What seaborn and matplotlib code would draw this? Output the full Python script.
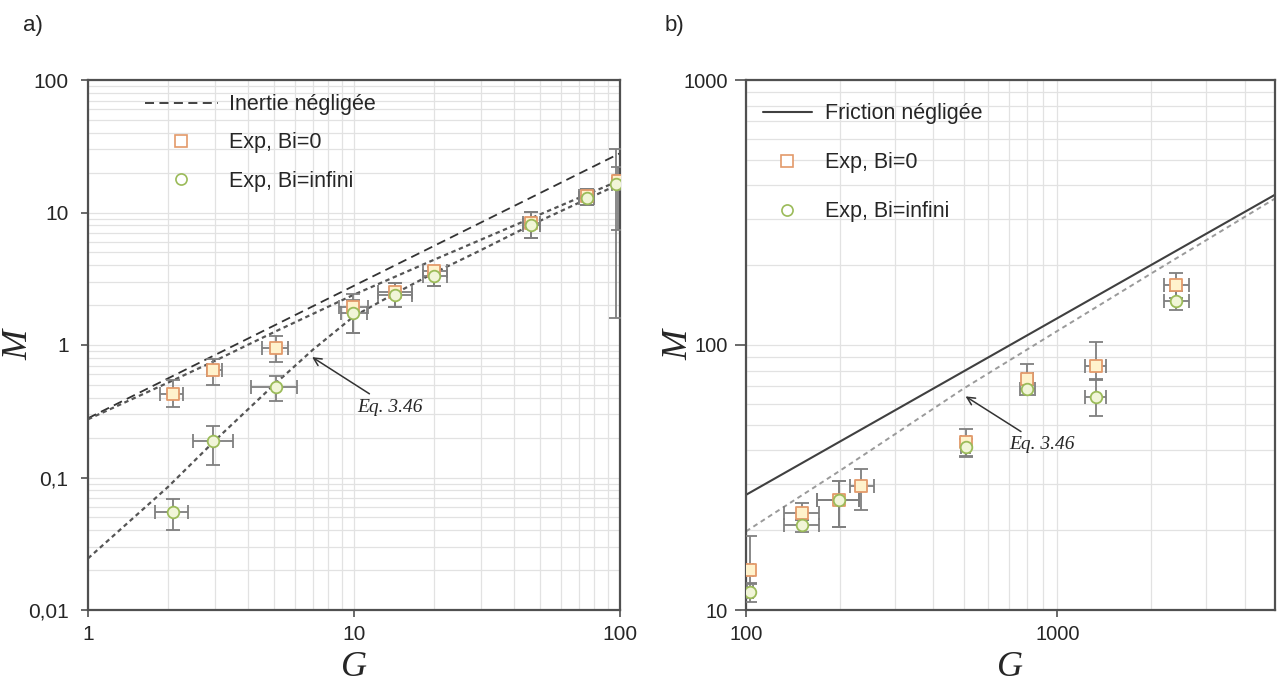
import matplotlib
matplotlib.use('Agg')
import numpy as np
import pandas as pd
import matplotlib.pyplot as plt
from matplotlib.lines import Line2D
from matplotlib.ticker import FixedLocator, FixedFormatter, NullFormatter, LogLocator
import seaborn as sns

# ---------------- panel a) ----------------
a_G = [2.08, 2.96, 5.08, 9.95, 14.2, 20.0, 46.4, 75.0, 98.5]
a_bi0_M = [0.43, 0.645, 0.95, 1.95, 2.5, 3.6, 8.4, 13.3, 17.2]
a_bi0_Mlo = [0.34, 0.50, 0.75, 1.24, 1.94, 2.77, 6.4, 11.3, 7.4]
a_bi0_Mhi = [0.54, 0.78, 1.17, 2.44, 2.93, 3.9, 10.1, 15.1, 22.0]
a_bi0_Glo = [1.87, 2.80, 4.50, 8.8, 12.3, 18.1, 43.0, 70.0, 95.0]
a_bi0_Ghi = [2.27, 3.19, 5.66, 11.3, 16.5, 22.3, 50.0, 80.0, 102.0]

a_biinf_G = [2.08, 2.96, 5.08, 9.95, 14.2, 20.0, 46.4, 75.0, 97.0]
a_biinf_M = [0.055, 0.187, 0.483, 1.75, 2.4, 3.3, 8.1, 12.9, 16.5]
a_biinf_Mlo = [0.040, 0.125, 0.38, 1.24, 1.94, 2.77, 6.4, 11.3, 1.6]
a_biinf_Mhi = [0.069, 0.246, 0.58, 2.2, 2.93, 3.9, 10.1, 15.1, 30.0]
a_biinf_Glo = [1.78, 2.48, 4.09, 8.9, 12.3, 18.1, 43.0, 70.0, 93.0]
a_biinf_Ghi = [2.38, 3.52, 6.10, 11.2, 16.5, 22.3, 50.0, 80.0, 100.0]

a_inertie_G = [1, 100]
a_inertie_M = [0.28, 28.0]
a_eq_up_G = [1, 2, 3, 5, 10, 20, 46, 100]
a_eq_up_M = [0.275, 0.52, 0.76, 1.25, 2.4, 4.4, 9.0, 17.5]
a_eq_low_G = [1, 2, 3, 5, 7, 10, 14, 20, 30, 46, 100]
a_eq_low_M = [0.0245, 0.085, 0.19, 0.5, 0.92, 1.65, 2.4, 3.5, 5.2, 8.0, 16.5]

a_yticks = [0.01, 0.1, 1, 10, 100]
a_yticklabels = ['0,01', '0,1', '1', '10', '100']
a_xticks = [1, 10, 100]
a_xticklabels = ['1', '10', '100']

# ---------------- panel b) ----------------
b_bi0_G = [102.8, 151.7, 199, 234, 507, 801, 1327, 2410]
b_bi0_M = [14.2, 23.3, 25.9, 29.3, 43.0, 74.3, 83.4, 168]
b_bi0_Mlo = [12.5, 21.8, 20.5, 23.9, 37.8, 68.0, 74.0, 150]
b_bi0_Mhi = [19.0, 25.3, 30.8, 34.1, 48.3, 84.6, 103, 187.5]
b_bi0_Glo = [100.5, 132, 169, 215, 490, 770, 1229, 2197]
b_bi0_Ghi = [105, 172, 230, 257, 525, 835, 1433, 2650]

b_biinf_G = [102.8, 151.7, 199, 507, 801, 1327, 2410]
b_biinf_M = [11.7, 21.0, 25.9, 41.2, 68.5, 63.8, 147]
b_biinf_Mlo = [10.7, 19.7, 20.5, 38.0, 64.8, 53.9, 136]
b_biinf_Mhi = [12.6, 21.8, 30.8, 44.0, 72.0, 74.1, 160]
b_biinf_Glo = [100.5, 132, 169, 490, 758, 1229, 2197]
b_biinf_Ghi = [105, 172, 230, 525, 846, 1433, 2650]

b_friction_G = [100, 5000]
b_friction_M = [27.2, 369]
b_eq_G = [100, 200, 500, 1000, 2000, 5000]
b_eq_M = [19.8, 33.5, 68.5, 113, 186, 357]

b_yticks = [10, 100, 1000]
b_yticklabels = ['10', '100', '1000']
b_xticks = [100, 1000]
b_xticklabels = ['100', '1000']

# ---------------- style ----------------
sns.set_style("whitegrid", {'grid.color': '#e2e2e2', 'axes.edgecolor': '#505050'})
plt.rcParams['font.family'] = ['Liberation Sans', 'DejaVu Sans']

SQ_FACE, SQ_EDGE = '#fff2cc', '#e39a6a'
CI_FACE, CI_EDGE = '#f1f5d8', '#9bbb59'
ERR = '#7f7f7f'

fig = plt.figure(figsize=(12.78, 6.92), dpi=100)
ax1 = fig.add_axes([88 / 1278, 1 - 610 / 692, 532 / 1278, 530 / 692])
ax2 = fig.add_axes([746 / 1278, 1 - 610 / 692, 529 / 1278, 530 / 692])


def draw_points(ax, G, M, Glo, Ghi, Mlo, Mhi, marker, face, edge):
    df = pd.DataFrame({'G': G, 'M': M, 'Glo': Glo, 'Ghi': Ghi, 'Mlo': Mlo, 'Mhi': Mhi})
    ax.errorbar(df['G'], df['M'],
                xerr=[df['G'] - df['Glo'], df['Ghi'] - df['G']],
                yerr=[df['M'] - df['Mlo'], df['Mhi'] - df['M']],
                fmt='none', ecolor=ERR, elinewidth=1.3, capsize=5, capthick=1.3, zorder=3)
    sns.scatterplot(data=df, x='G', y='M', ax=ax, marker=marker, s=70,
                    color=face, edgecolor=edge, linewidth=1.3, zorder=4, legend=False)


def style_axes(ax, xlim, ylim, xticks, xlabels, yticks, ylabels, fs):
    ax.set_xscale('log')
    ax.set_yscale('log')
    ax.set_xlim(*xlim)
    ax.set_ylim(*ylim)
    ax.xaxis.set_major_locator(FixedLocator(xticks))
    ax.xaxis.set_major_formatter(FixedFormatter(xlabels))
    ax.yaxis.set_major_locator(FixedLocator(yticks))
    ax.yaxis.set_major_formatter(FixedFormatter(ylabels))
    for axis in (ax.xaxis, ax.yaxis):
        axis.set_minor_locator(LogLocator(base=10, subs=np.arange(2, 10), numticks=20))
        axis.set_minor_formatter(NullFormatter())
    ax.grid(True, which='both', color='#e2e2e2', linewidth=0.9)
    ax.tick_params(which='minor', length=0)
    ax.tick_params(which='major', length=5, width=1.2, color='#505050',
                   labelsize=fs, left=True, bottom=True)
    ax.tick_params(axis='y', pad=9)
    ax.tick_params(axis='x', pad=6)
    for sp in ax.spines.values():
        sp.set_linewidth(1.6)
        sp.set_color('#505050')
    ax.set_axisbelow(True)
    ax.set_xlabel('G', fontsize=26, style='italic', family=['Liberation Serif', 'DejaVu Serif'])
    ax.set_ylabel('M', fontsize=26, style='italic', family=['Liberation Serif', 'DejaVu Serif'])
    ax.xaxis.set_label_coords(0.5, -0.078)


# ---- panel a ----
sns.lineplot(x=a_inertie_G, y=a_inertie_M, ax=ax1, color='#333333', lw=1.3, zorder=2)
ax1.lines[-1].set_dashes((5, 3))
sns.lineplot(x=a_eq_up_G, y=a_eq_up_M, ax=ax1, color='#555555', lw=1.6, zorder=2)
ax1.lines[-1].set_dashes((2, 1.6))
sns.lineplot(x=a_eq_low_G, y=a_eq_low_M, ax=ax1, color='#555555', lw=1.6, zorder=2)
ax1.lines[-1].set_dashes((2, 1.6))

draw_points(ax1, a_G, a_bi0_M, a_bi0_Glo, a_bi0_Ghi, a_bi0_Mlo, a_bi0_Mhi, 's', SQ_FACE, SQ_EDGE)
draw_points(ax1, a_biinf_G, a_biinf_M, a_biinf_Glo, a_biinf_Ghi, a_biinf_Mlo, a_biinf_Mhi, 'o', CI_FACE, CI_EDGE)

style_axes(ax1, (1, 100), (0.01, 100), a_xticks, a_xticklabels, a_yticks, a_yticklabels, 15)
ax1.yaxis.set_label_coords(-0.098, 0.5)

h1 = [Line2D([], [], color='#333333', lw=1.3, dashes=(5, 3)),
      Line2D([], [], ls='', marker='s', ms=8, mfc='white', mec=SQ_EDGE, mew=1.2),
      Line2D([], [], ls='', marker='o', ms=8, mfc='white', mec=CI_EDGE, mew=1.2)]
ax1.legend(h1, ['Inertie négligée', 'Exp, Bi=0', 'Exp, Bi=infini'], loc='upper left',
           bbox_to_anchor=(0.07, 1.01), frameon=False, fontsize=15.5,
           handlelength=3.4, handletextpad=0.5, labelspacing=0.8)

ax1.annotate('Eq. 3.46', xy=(6.96, 0.81), xytext=(10.3, 0.34), fontsize=14,
             style='italic', family=['Liberation Serif', 'DejaVu Serif'], va='center',
             arrowprops=dict(arrowstyle='->', color='#333333', lw=1.1, shrinkA=2, shrinkB=0))

# ---- panel b ----
sns.lineplot(x=b_friction_G, y=b_friction_M, ax=ax2, color='#404040', lw=1.5, zorder=2)
sns.lineplot(x=b_eq_G, y=b_eq_M, ax=ax2, color='#9a9a9a', lw=1.4, zorder=2)
ax2.lines[-1].set_dashes((2.5, 2))

draw_points(ax2, b_bi0_G, b_bi0_M, b_bi0_Glo, b_bi0_Ghi, b_bi0_Mlo, b_bi0_Mhi, 's', SQ_FACE, SQ_EDGE)
draw_points(ax2, b_biinf_G, b_biinf_M, b_biinf_Glo, b_biinf_Ghi, b_biinf_Mlo, b_biinf_Mhi, 'o', CI_FACE, CI_EDGE)

style_axes(ax2, (100, 5000), (10, 1000), b_xticks, b_xticklabels, b_yticks, b_yticklabels, 14.5)
ax2.tick_params(axis='y', pad=5, length=8)
ax2.yaxis.set_label_coords(-0.095, 0.5)

h2 = [Line2D([], [], color='#404040', lw=1.5),
      Line2D([], [], ls='', marker='s', ms=8, mfc='white', mec=SQ_EDGE, mew=1.2),
      Line2D([], [], ls='', marker='o', ms=8, mfc='white', mec=CI_EDGE, mew=1.2)]
ax2.legend(h2, ['Friction négligée', 'Exp, Bi=0', 'Exp, Bi=infini'], loc='upper left',
           bbox_to_anchor=(-0.005, 0.993), frameon=False, fontsize=15.5,
           handlelength=2.3, handletextpad=0.6, labelspacing=1.3)

ax2.annotate('Eq. 3.46', xy=(507, 64), xytext=(700, 42), fontsize=14,
             style='italic', family=['Liberation Serif', 'DejaVu Serif'], va='center',
             arrowprops=dict(arrowstyle='->', color='#333333', lw=1.1, shrinkA=2, shrinkB=0))

fig.text(23 / 1278, 1 - 25 / 692, 'a)', fontsize=16, va='center', ha='left')
fig.text(665 / 1278, 1 - 25 / 692, 'b)', fontsize=16, va='center', ha='left')

fig.savefig('out.png', dpi=100)
